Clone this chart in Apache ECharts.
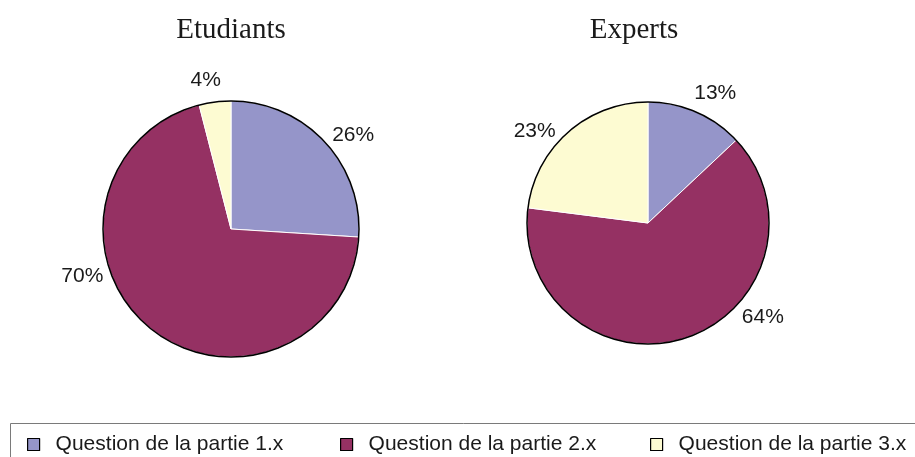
<!DOCTYPE html>
<html>
<head>
<meta charset="utf-8">
<script src="https://cdn.jsdelivr.net/npm/echarts@6/dist/echarts.min.js"></script>
<style>
  html, body { margin: 0; padding: 0; background: #fff; }
  #chart { width: 915px; height: 457px; }
</style>
</head>
<body>
<div id="chart"></div>
<script>
// Share of questions by part, for students and for experts
const categories = ['Question de la partie 1.x', 'Question de la partie 2.x', 'Question de la partie 3.x'];
const etudiants = [26, 70, 4];
const experts = [13, 64, 23];
const titles = ['Etudiants', 'Experts'];
const colors = ['#9595c9', '#953163', '#fdfbd2'];

const sansFont = '"Liberation Sans", Arial, sans-serif';
const serifFont = '"Liberation Serif", "Times New Roman", serif';

// Small hand nudges so the percentage labels sit where they read best
const labelNudges = [
  [[-2, -1], [-37, -58], [11, -14]],
  [[-9, -11], [50, -28], [-3, 5]]
];

function sliceData(values) {
  return values.map((v, i) => ({ name: categories[i], value: v }));
}

function pieSeries(values, center, radius, nudges) {
  return {
    type: 'pie',
    center: center,
    radius: radius,
    startAngle: 90,
    clockwise: true,
    silent: true,
    animation: false,
    itemStyle: { borderColor: '#ffffff', borderWidth: 1 },
    label: {
      show: true,
      position: 'outside',
      formatter: '{c}%',
      fontFamily: sansFont,
      fontSize: 21,
      color: '#1a1a1a',
      distanceToLabelLine: 2
    },
    labelLine: { show: false, length: 8, length2: 2 },
    labelLayout: function (p) {
      const n = nudges[p.dataIndex];
      return { dx: n[0], dy: n[1] };
    },
    data: sliceData(values)
  };
}

// Thin black rim around each pie
function rimSeries(center, radius) {
  return {
    type: 'pie',
    center: center,
    radius: radius,
    silent: true,
    animation: false,
    legendHoverLink: false,
    label: { show: false },
    labelLine: { show: false },
    itemStyle: { color: 'rgba(0,0,0,0)', borderColor: '#000000', borderWidth: 1.5 },
    data: [{ name: '__rim', value: 1 }]
  };
}

function legendFor(i, left) {
  return {
    left: left,
    top: 429,
    data: [categories[i]],
    icon: 'rect',
    itemWidth: 12,
    itemHeight: 12,
    itemStyle: { borderColor: '#000000', borderWidth: 1.2 },
    textStyle: { fontFamily: sansFont, fontSize: 21, color: '#1a1a1a', padding: [0, 0, 0, 11] },
    selectedMode: false
  };
}

const chart = echarts.init(document.getElementById('chart'), null, { renderer: 'canvas' });
chart.setOption({
  backgroundColor: '#ffffff',
  color: colors,
  title: [
    { text: titles[0], left: 226, top: 11, textAlign: 'center',
      textStyle: { fontFamily: serifFont, fontSize: 29, fontWeight: 'normal', color: '#1a1a1a' } },
    { text: titles[1], left: 629, top: 11, textAlign: 'center',
      textStyle: { fontFamily: serifFont, fontSize: 29, fontWeight: 'normal', color: '#1a1a1a' } }
  ],
  legend: [legendFor(0, 22), legendFor(1, 335), legendFor(2, 645)],
  graphic: [{
    type: 'rect',
    shape: { x: 10.5, y: 423.5, width: 1000, height: 100 },
    style: { fill: 'none', stroke: '#7a7a7a', lineWidth: 1 },
    silent: true
  }],
  series: [
    pieSeries(etudiants, [231, 229], 128, labelNudges[0]),
    rimSeries([231, 229], 128),
    pieSeries(experts, [648, 223], 121, labelNudges[1]),
    rimSeries([648, 223], 121)
  ]
});
</script>
</body>
</html>
